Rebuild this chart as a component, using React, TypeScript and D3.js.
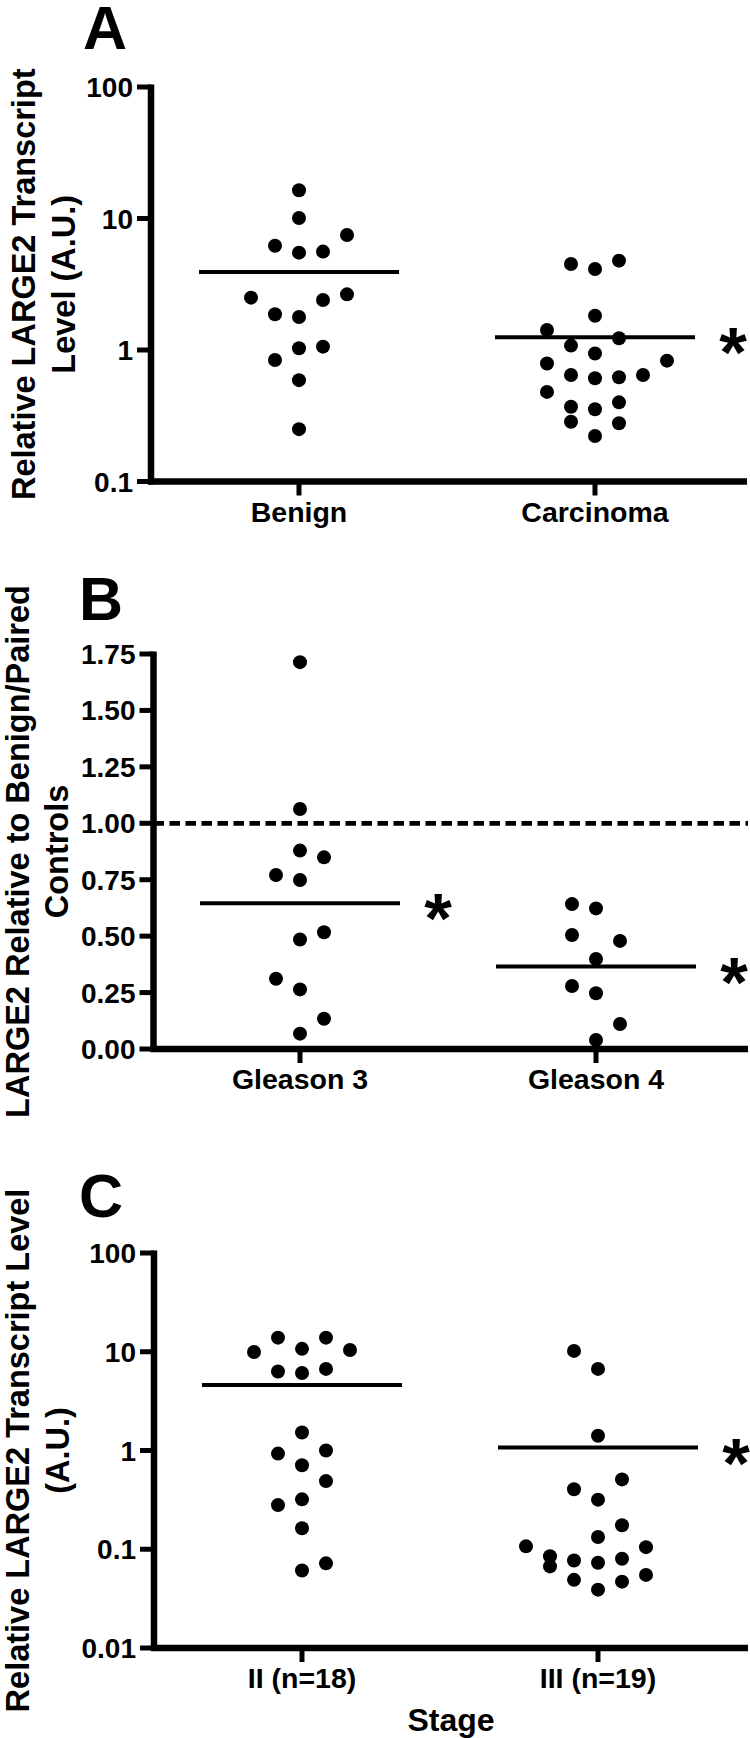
import React from "react";
import * as d3 from "d3";

const FONT = "'Liberation Sans', Arial, Helvetica, sans-serif";

// ---------- Panel A ----------
const catsA = ["Benign", "Carcinoma"];
const benignValues = [16.4, 10.1, 7.5, 6.2, 5.5, 5.6, 2.5, 2.4, 2.65, 1.87, 1.78, 1.03, 1.06, 0.84, 0.59, 0.25];
const benignSlots = [0, 0, 2, -1, 0, 1, -2, 1, 2, -1, 0, 0, 1, -1, 0, 0];
const carcinomaValues = [4.51, 4.13, 4.78, 1.82, 1.42, 1.23, 1.08, 0.94, 0.79, 0.83, 0.645, 0.61, 0.62, 0.645, 0.48, 0.37, 0.354, 0.4, 0.285, 0.277, 0.222];
const carcinomaSlots = [-1, 0, 1, 0, -2, 1, -1, 0, -2, 3, -1, 0, 1, 2, -2, -1, 0, 1, -1, 1, 0];
const meansA = [3.92, 1.25];
const starsA = [false, true];
const ticksA = [0.1, 1, 10, 100];
const tickLabelsA = ["0.1", "1", "10", "100"];
const titleA = ["Relative LARGE2 Transcript", "Level (A.U.)"];

// ---------- Panel B ----------
const catsB = ["Gleason 3", "Gleason 4"];
const gleason3Values = [1.714, 1.063, 0.879, 0.849, 0.771, 0.749, 0.485, 0.517, 0.311, 0.264, 0.134, 0.068];
const gleason3Slots = [0, 0, 0, 1, -1, 0, 0, 1, -1, 0, 1, 0];
const gleason4Values = [0.642, 0.623, 0.505, 0.479, 0.399, 0.279, 0.247, 0.111, 0.04];
const gleason4Slots = [-1, 0, -1, 1, 0, -1, 0, 1, 0];
const meansB = [0.646, 0.365];
const starsB = [true, true];
const ticksB = [0, 0.25, 0.5, 0.75, 1.0, 1.25, 1.5, 1.75];
const tickLabelsB = ["0.00", "0.25", "0.50", "0.75", "1.00", "1.25", "1.50", "1.75"];
const referenceB = 1.0;
const titleB = ["LARGE2 Relative to Benign/Paired", "Controls"];

// ---------- Panel C ----------
const catsC = ["II (n=18)", "III (n=19)"];
const stage2Values = [13.9, 13.9, 10.7, 9.95, 10.4, 6.3, 6.1, 6.7, 1.52, 0.93, 1.0, 0.71, 0.49, 0.28, 0.32, 0.163, 0.072, 0.061];
const stage2Slots = [-1, 1, 0, -2, 2, -1, 0, 1, 0, -1, 1, 0, 1, -1, 0, 0, 1, 0];
const stage3Values = [10.2, 6.7, 1.41, 0.51, 0.405, 0.318, 0.175, 0.133, 0.107, 0.105, 0.085, 0.077, 0.08, 0.073, 0.067, 0.055, 0.049, 0.047, 0.039];
const stage3Slots = [-1, 0, 0, 1, -1, 0, 1, 0, -3, 2, -2, -1, 1, 0, -2, 2, -1, 1, 0];
const meansC = [4.6, 1.07];
const starsC = [false, true];
const ticksC = [0.01, 0.1, 1, 10, 100];
const tickLabelsC = ["0.01", "0.1", "1", "10", "100"];
const titleC = ["Relative LARGE2 Transcript Level", "(A.U.)"];
const xTitleC = "Stage";

type PanelCfg = {
  letter: string;
  letterX: number;
  letterY: number;
  log: boolean;
  domain: [number, number];
  ticks: number[];
  tickLabels: string[];
  axisX: number;
  yTop: number;
  yBottom: number;
  xEnd: number;
  cats: string[];
  catRange: [number, number];
  groups: { values: number[]; slots: number[] }[];
  means: number[];
  stars: boolean[];
  title: string[];
  titleX: [number, number];
  reference?: number;
  xTitle?: string;
};

const SLOT = 24;
const R = 7;
const MEAN_HALF = 100;

function Panel({ cfg }: { cfg: PanelCfg }) {
  const y = cfg.log
    ? d3.scaleLog().domain(cfg.domain).range([cfg.yBottom, cfg.yTop])
    : d3.scaleLinear().domain(cfg.domain).range([cfg.yBottom, cfg.yTop]);
  const x = d3.scalePoint<string>().domain(cfg.cats).range(cfg.catRange);
  const cy = (cfg.yTop + cfg.yBottom) / 2;

  return (
    <g fontFamily={FONT} fontWeight="bold" fill="#000">
      <text x={cfg.letterX} y={cfg.letterY} fontSize={61}>
        {cfg.letter}
      </text>
      {cfg.title.map((t, i) => (
        <text
          key={i}
          transform={`translate(${cfg.titleX[i]},${cy}) rotate(-90)`}
          textAnchor="middle"
          fontSize={32.5}
        >
          {t}
        </text>
      ))}
      {cfg.reference !== undefined && (
        <line
          x1={cfg.axisX}
          x2={cfg.xEnd}
          y1={y(cfg.reference)}
          y2={y(cfg.reference)}
          stroke="#000"
          strokeWidth={4.7}
          strokeDasharray="10.5,5.5"
        />
      )}
      <line x1={cfg.axisX} x2={cfg.axisX} y1={cfg.yTop - 2.5} y2={cfg.yBottom + 3} stroke="#000" strokeWidth={6.5} />
      <line x1={cfg.axisX - 3} x2={cfg.xEnd} y1={cfg.yBottom} y2={cfg.yBottom} stroke="#000" strokeWidth={6.5} />
      {cfg.ticks.map((t, i) => (
        <g key={i}>
          <line x1={cfg.axisX - 14} x2={cfg.axisX} y1={y(t)} y2={y(t)} stroke="#000" strokeWidth={5} />
          <text x={cfg.axisX - 18} y={y(t) + 10} textAnchor="end" fontSize={28}>
            {cfg.tickLabels[i]}
          </text>
        </g>
      ))}
      {cfg.cats.map((c) => (
        <g key={c}>
          <line x1={x(c)} x2={x(c)} y1={cfg.yBottom} y2={cfg.yBottom + 14} stroke="#000" strokeWidth={5} />
          <text x={x(c)} y={cfg.yBottom + 40} textAnchor="middle" fontSize={28.5}>
            {c}
          </text>
        </g>
      ))}
      {cfg.xTitle && (
        <text x={(cfg.axisX + cfg.xEnd) / 2} y={cfg.yBottom + 83} textAnchor="middle" fontSize={32}>
          {cfg.xTitle}
        </text>
      )}
      {cfg.groups.map((g, gi) =>
        g.values.map((v, i) => (
          <circle key={`${gi}-${i}`} cx={(x(cfg.cats[gi]) as number) + g.slots[i] * SLOT} cy={y(v)} r={R} fill="#000" />
        ))
      )}
      {cfg.means.map((m, i) => {
        const cx = x(cfg.cats[i]) as number;
        return (
          <g key={i}>
            <line x1={cx - MEAN_HALF} x2={cx + MEAN_HALF} y1={y(m)} y2={y(m)} stroke="#000" strokeWidth={4} />
            {cfg.stars[i] && (
              <text x={cx + MEAN_HALF + 38} y={y(m) + 40} textAnchor="middle" fontSize={71}>
                *
              </text>
            )}
          </g>
        );
      })}
    </g>
  );
}

const panels: PanelCfg[] = [
  {
    letter: "A",
    letterX: 83,
    letterY: 49,
    log: true,
    domain: [0.1, 100],
    ticks: ticksA,
    tickLabels: tickLabelsA,
    axisX: 151,
    yTop: 87,
    yBottom: 481.5,
    xEnd: 747,
    cats: catsA,
    catRange: [299, 595],
    groups: [
      { values: benignValues, slots: benignSlots },
      { values: carcinomaValues, slots: carcinomaSlots },
    ],
    means: meansA,
    stars: starsA,
    title: titleA,
    titleX: [35, 75],
  },
  {
    letter: "B",
    letterX: 79,
    letterY: 620,
    log: false,
    domain: [0, 1.75],
    ticks: ticksB,
    tickLabels: tickLabelsB,
    axisX: 153.5,
    yTop: 654,
    yBottom: 1049,
    xEnd: 748,
    cats: catsB,
    catRange: [300, 596],
    groups: [
      { values: gleason3Values, slots: gleason3Slots },
      { values: gleason4Values, slots: gleason4Slots },
    ],
    means: meansB,
    stars: starsB,
    title: titleB,
    titleX: [29, 68],
    reference: referenceB,
  },
  {
    letter: "C",
    letterX: 79,
    letterY: 1217,
    log: true,
    domain: [0.01, 100],
    ticks: ticksC,
    tickLabels: tickLabelsC,
    axisX: 154,
    yTop: 1253,
    yBottom: 1648,
    xEnd: 748,
    cats: catsC,
    catRange: [302, 598],
    groups: [
      { values: stage2Values, slots: stage2Slots },
      { values: stage3Values, slots: stage3Slots },
    ],
    means: meansC,
    stars: starsC,
    title: titleC,
    titleX: [29, 69],
    xTitle: xTitleC,
  },
];

export default function App() {
  return (
    <svg
      width={750}
      height={1738}
      viewBox="0 0 750 1738"
      style={{ position: "absolute", left: 0, top: 0, display: "block", background: "#fff" }}
    >
      <rect width={750} height={1738} fill="#fff" />
      {panels.map((p) => (
        <Panel key={p.letter} cfg={p} />
      ))}
    </svg>
  );
}
